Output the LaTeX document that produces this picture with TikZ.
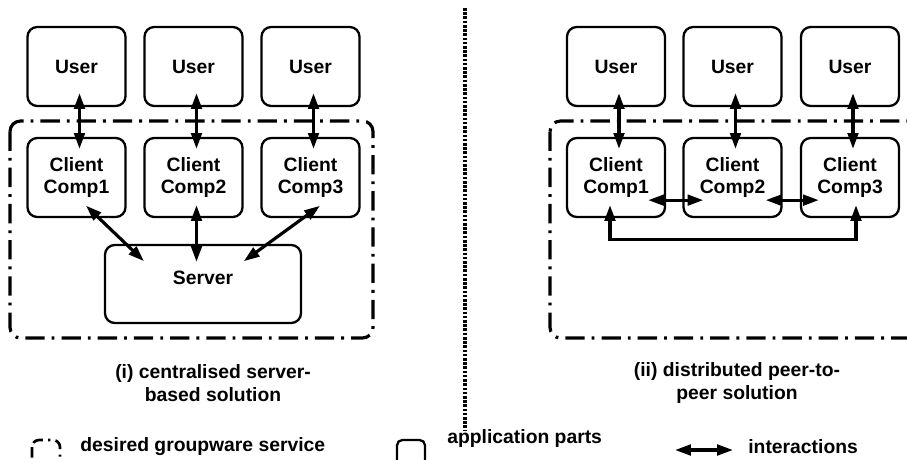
\documentclass[tikz,border=0pt]{standalone}
\usepackage{fontspec}
\setmainfont{Liberation Sans}
\usetikzlibrary{arrows.meta,calc}

\begin{document}
\begin{tikzpicture}[x=0.02cm, y=-0.02cm, >={Triangle[length=9pt,width=6pt]},
  part/.style={draw, line width=1.3pt, rounded corners=5.5pt, minimum width=1.96cm, minimum height=1.58cm, inner sep=0pt, align=center, font=\bfseries\fontsize{11}{12.5}\selectfont},
  link/.style={<->, line width=1.8pt},
  service/.style={line width=1.8pt, rounded corners=6pt, dash pattern=on 11pt off 4pt on 1.6pt off 4pt},
  caption/.style={inner sep=0pt, align=center, font=\bfseries\fontsize{11}{13}\selectfont}]
\clip (0,0) rectangle (907,460);
% (i) centralised
\draw[service] (10,121) rectangle (373,338);
\node[part] (u1) at (76.5,66.5) {User};
\node[part] (u2) at (193.5,66.5) {User};
\node[part] (u3) at (310.5,66.5) {User};
\node[part] (c1) at (76.5,177.5) {Client\\Comp1};
\node[part] (c2) at (193.5,177.5) {Client\\Comp2};
\node[part] (c3) at (310.5,177.5) {Client\\Comp3};
\node[part, minimum width=3.92cm, minimum height=1.56cm] (srv) at (203,284) {\raisebox{0.24cm}{Server}};
\draw[link, shorten <=-0.28cm, shorten >=-0.24cm] ([xshift=0.06cm]u1.south) -- ([xshift=0.06cm]c1.north);
\draw[link, shorten <=-0.28cm, shorten >=-0.24cm] ([xshift=0.06cm]u2.south) -- ([xshift=0.06cm]c2.north);
\draw[link, shorten <=-0.28cm, shorten >=-0.24cm] ([xshift=0.06cm]u3.south) -- ([xshift=0.06cm]c3.north);
\draw[link, shorten <=-0.36cm, shorten >=-0.5cm] ($(c1.south)+(22.5,0)$) -- ($(srv.north west)+(22,0)$);
\draw[link, shorten <=-0.26cm, shorten >=-0.36cm] ([xshift=0.06cm]c2.south) -- ([xshift=0.06cm]c2.south |- srv.north);
\draw[link, shorten <=-0.42cm, shorten >=-0.59cm] ($(c3.south)+(-7.5,0)$) -- ($(srv.north east)+(-34.5,0)$);
\node[caption] (capi) at (213,383) {(i) centralised server-\\based solution};
% separator
\draw[line width=2.2pt, dash pattern=on 1.5pt off 0.9pt] (465,8) -- (465,430);
% (ii) distributed
\draw[service] (550,121) rectangle (918,338);
\node[part] (pu1) at (616,66.5) {User};
\node[part] (pu2) at (732.5,66.5) {User};
\node[part] (pu3) at (850,66.5) {User};
\node[part] (cp1) at (616,177.5) {Client\\Comp1};
\node[part] (cp2) at (732.5,177.5) {Client\\Comp2};
\node[part] (cp3) at (850,177.5) {Client\\Comp3};
\draw[link, shorten <=-0.28cm, shorten >=-0.24cm] ([xshift=0.06cm]pu1.south) -- ([xshift=0.06cm]cp1.north);
\draw[link, shorten <=-0.28cm, shorten >=-0.24cm] ([xshift=0.06cm]pu2.south) -- ([xshift=0.06cm]cp2.north);
\draw[link, shorten <=-0.28cm, shorten >=-0.24cm] ([xshift=0.06cm]pu3.south) -- ([xshift=0.06cm]cp3.north);
\draw[link] ($(cp1.south east)+(-18,-18)$) -- ($(cp2.south west)+(21,-18)$);
\draw[link] ($(cp2.south east)+(-17,-18)$) -- ($(cp3.south west)+(19,-18)$);
\draw[link] ($(cp1.south)+(-6,-13)$) -- ++(0,34) -| ($(cp3.south)+(6,-13)$);
\node[caption] (capii) at (737,383) {(ii) distributed peer-to-\\peer solution};
% key
\draw[service, line width=1.5pt, rounded corners=4pt, dash pattern=on 6pt off 3pt on 1.2pt off 3pt] (32,440) rectangle (60,472);
\node[caption, anchor=west] (keyservice) at (80,447) {desired groupware service};
\node[part, minimum width=0.56cm, minimum height=0.64cm, rounded corners=3pt] (keypart) at (411,456) {};
\node[caption, anchor=west] (keyparts) at (447,438) {application parts};
\coordinate (keyl) at (675,450);
\coordinate (keyr) at (733,450);
\draw[link] (keyl) -- (keyr);
\node[caption, anchor=west] (keylink) at (748,447) {interactions};
\end{tikzpicture}
\end{document}
